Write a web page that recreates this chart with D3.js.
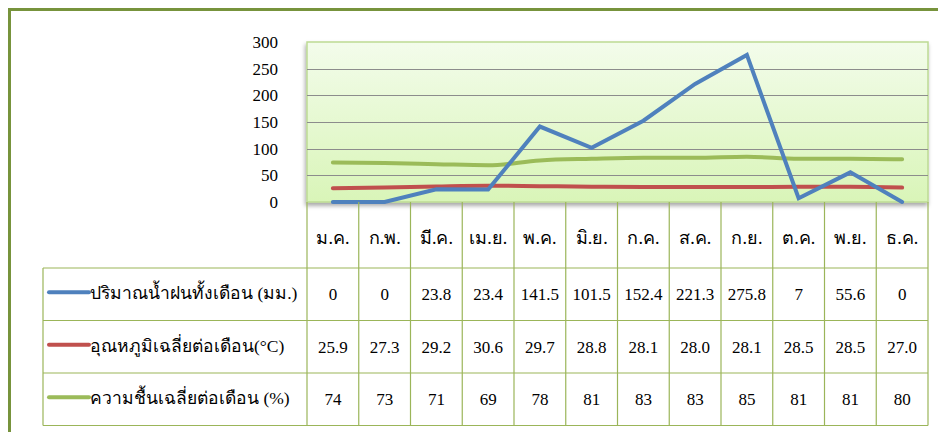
<!DOCTYPE html>
<html>
<head>
<meta charset="utf-8">
<script src="https://cdn.jsdelivr.net/npm/d3@7/dist/d3.min.js"></script>
<style>
  body { margin: 0; background: #fff; }
  svg text { font-family: "Liberation Serif", "Times New Roman", serif; fill: #000; }
</style>
</head>
<body>
<div id="chart"></div>
<script>
// month labels (Thai)
var months = ['ม.ค.', 'ก.พ.', 'มี.ค.', 'เม.ย.', 'พ.ค.', 'มิ.ย.', 'ก.ค.', 'ส.ค.', 'ก.ย.', 'ต.ค.', 'พ.ย.', 'ธ.ค.'];

var rain = [0, 0, 23.8, 23.4, 141.5, 101.5, 152.4, 221.3, 275.8, 7, 55.6, 0];
var rainText = ['0', '0', '23.8', '23.4', '141.5', '101.5', '152.4', '221.3', '275.8', '7', '55.6', '0'];
var temp = [25.9, 27.3, 29.2, 30.6, 29.7, 28.8, 28.1, 28.0, 28.1, 28.5, 28.5, 27.0];
var humidity = [74, 73, 71, 69, 78, 81, 83, 83, 85, 81, 81, 80];

var seriesNames = ['ปริมาณน้ำฝนทั้งเดือน (มม.)', 'อุณหภูมิเฉลี่ยต่อเดือน(°C)', 'ความชื้นเฉลี่ยต่อเดือน (%)'];
var seriesColors = ['#4F81BD', '#C0504D', '#9BBB59'];

var yTicks = [0, 50, 100, 150, 200, 250, 300];

var width = 938, height = 432;
var plot = { left: 307, right: 928, top: 42, bottom: 202 };
var tableLeft = 43;
var rowH = 52.5;

var svg = d3.select('#chart').append('svg')
    .attr('width', width)
    .attr('height', height);

var defs = svg.append('defs');
var grad = defs.append('linearGradient')
    .attr('id', 'plotBg')
    .attr('x1', 0).attr('y1', 0).attr('x2', 0).attr('y2', 1);
grad.append('stop').attr('offset', '0%').attr('stop-color', '#F3FCEB');
grad.append('stop').attr('offset', '100%').attr('stop-color', '#D9F5B8');

var shadow = defs.append('filter').attr('id', 'shadow')
    .attr('x', '-5%').attr('y', '-5%').attr('width', '110%').attr('height', '120%');
shadow.append('feDropShadow')
    .attr('dx', -1).attr('dy', 3).attr('stdDeviation', 2)
    .attr('flood-color', '#000').attr('flood-opacity', 0.35);

// outer frame
svg.append('path')
    .attr('d', 'M9.5,440 L9.5,9.5 L940,9.5')
    .attr('fill', 'none')
    .attr('stroke', '#77933C')
    .attr('stroke-width', 3);

var x = d3.scaleBand()
    .domain(months)
    .range([plot.left, plot.right]);

var y = d3.scaleLinear()
    .domain([0, 300])
    .range([plot.bottom, plot.top]);

// plot area
svg.append('rect')
    .attr('x', plot.left)
    .attr('y', plot.top)
    .attr('width', plot.right - plot.left)
    .attr('height', plot.bottom - plot.top)
    .attr('fill', 'url(#plotBg)')
    .attr('stroke', '#BDDA94')
    .attr('stroke-width', 1.5)
    .attr('filter', 'url(#shadow)');

// gridlines
svg.append('g')
    .selectAll('line')
    .data(yTicks.filter(d => d > 0 && d < 300))
    .enter().append('line')
    .attr('x1', plot.left)
    .attr('x2', plot.right)
    .attr('y1', d => Math.round(y(d)) + 0.5)
    .attr('y2', d => Math.round(y(d)) + 0.5)
    .attr('stroke', '#8C8C8C')
    .attr('stroke-width', 1);

// y axis labels
var yAxis = d3.axisLeft(y).tickValues(yTicks).tickSize(0).tickPadding(0);
var yG = svg.append('g')
    .attr('transform', 'translate(278,0)')
    .call(yAxis);
yG.select('.domain').remove();
yG.selectAll('text')
    .attr('font-size', 17)
    .attr('font-family', '"Liberation Serif", serif')
    .attr('fill', '#000');

// lines
var cx = d => x(d) + x.bandwidth() / 2;
var allSeries = [
    { values: rain, curve: d3.curveLinear },
    { values: temp, curve: d3.curveMonotoneX },
    { values: humidity, curve: d3.curveMonotoneX }
];

var lineGen = d3.line();
// draw green, red, blue order so blue sits on top
[2, 1, 0].forEach(function (i) {
    var s = allSeries[i];
    lineGen.x((d, j) => cx(months[j])).y(d => y(d)).curve(s.curve);
    svg.append('path')
        .datum(s.values)
        .attr('d', lineGen)
        .attr('fill', 'none')
        .attr('stroke', seriesColors[i])
        .attr('stroke-width', 4)
        .attr('stroke-linejoin', 'miter')
        .attr('stroke-linecap', 'round');
});

// data table
var table = svg.append('g');
var gridColor = '#9BB559';
var tableBottom = plot.bottom + 66 + rowH * 3;

// header row verticals
var colEdges = months.map(m => x(m)).concat([plot.right]);
table.selectAll('line.col')
    .data(colEdges)
    .enter().append('line')
    .attr('class', 'col')
    .attr('x1', d => d).attr('x2', d => d)
    .attr('y1', plot.bottom).attr('y2', tableBottom)
    .attr('stroke', gridColor).attr('stroke-width', 1.2);

var rowEdges = [0, 1, 2, 3].map(i => plot.bottom + 66 + i * rowH);
table.selectAll('line.row')
    .data(rowEdges)
    .enter().append('line')
    .attr('class', 'row')
    .attr('x1', tableLeft).attr('x2', plot.right)
    .attr('y1', d => d).attr('y2', d => d)
    .attr('stroke', gridColor).attr('stroke-width', 1.2);

table.append('line')
    .attr('x1', tableLeft).attr('x2', tableLeft)
    .attr('y1', rowEdges[0]).attr('y2', tableBottom)
    .attr('stroke', gridColor).attr('stroke-width', 1.2);

// month headers
table.selectAll('text.month')
    .data(months)
    .enter().append('text')
    .attr('class', 'month')
    .attr('x', d => cx(d))
    .attr('y', plot.bottom + 42)
    .attr('text-anchor', 'middle')
    .attr('font-size', 18)
    .text(d => d);

var rowsText = [rainText, temp.map(d => d.toFixed(1)), humidity.map(String)];

rowsText.forEach(function (vals, i) {
    var cy = rowEdges[i] + rowH / 2;
    table.append('line')
        .attr('x1', 49).attr('x2', 89)
        .attr('y1', cy - 2).attr('y2', cy - 2)
        .attr('stroke', seriesColors[i])
        .attr('stroke-width', 4)
        .attr('stroke-linecap', 'round');
    table.append('text')
        .attr('x', 90)
        .attr('y', cy + 5)
        .attr('font-size', 17.5)
        .text(seriesNames[i]);
    table.selectAll('text.v' + i)
        .data(vals)
        .enter().append('text')
        .attr('class', 'v' + i)
        .attr('x', (d, j) => cx(months[j]))
        .attr('y', cy + 6)
        .attr('text-anchor', 'middle')
        .attr('font-size', 17)
        .text(d => d);
});
</script>
</body>
</html>
